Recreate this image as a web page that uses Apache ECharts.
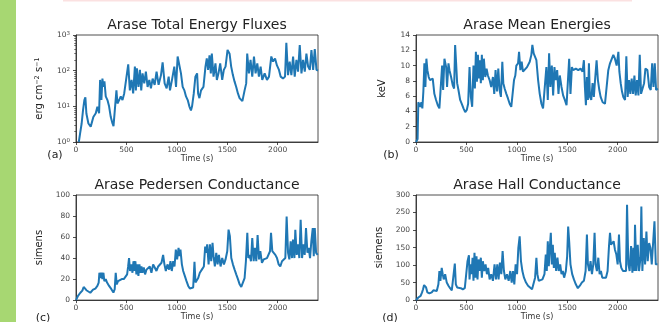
<!DOCTYPE html>
<html>
<head>
<meta charset="utf-8">
<script src="https://cdn.jsdelivr.net/npm/echarts@6/dist/echarts.min.js"></script>
<style>
  html, body { margin: 0; padding: 0; background: #fff; }
  #chart { width: 659px; height: 322px; }
</style>
</head>
<body>
<div id="chart"></div>
<script>
// (a) total energy flux, erg cm^-2 s^-1
var fluxT = [28,40,56,70,83,93,103,123,146,172,196,212,229,239,252,262,272,282,295,312,328,345,362,372,388,401,411,428,444,461,478,494,518,534,551,567,584,594,604,620,634,647,660,677,693,710,727,743,760,780,799,819,843,859,879,899,919,932,952,975,992,1008,1025,1041,1058,1075,1091,1108,1124,1140,1151,1168,1184,1201,1211,1224,1240,1264,1284,1297,1310,1324,1337,1347,1364,1383,1397,1413,1430,1450,1466,1483,1503,1523,1539,1556,1572,1589,1606,1622,1639,1650,1672,1688,1698,1715,1731,1748,1765,1781,1798,1814,1831,1847,1871,1894,1914,1937,1954,1974,1993,2013,2030,2053,2073,2086,2103,2119,2136,2153,2169,2186,2202,2219,2236,2252,2269,2285,2302,2319,2335,2352,2368,2385,2400];
var fluxV = [1.0,1.7,3.3,8,15,18,6.3,3.3,2.7,5,6.4,9.8,6.4,55,15,60,35,50,19,15,10,5,3.3,2.8,10,28,12,15,19,15,23,21,150,28,55,23,130,28,117,35,105,28,84,44,94,35,55,32,60,40,94,40,75,170,44,32,68,28,55,130,35,250,270,84,35,28,19,15,10,7.7,10,23,68,84,23,17,28,35,130,220,105,270,84,300,68,160,55,84,160,55,105,130,380,300,130,75,50,35,23,17,15,14,28,44,300,84,200,68,250,84,160,68,130,55,84,55,68,250,180,220,140,105,68,60,68,600,75,180,75,250,68,200,94,520,84,200,94,300,130,105,380,105,400,105,100];

// (b) mean energy, keV
var energyT = [0,10,16,23,33,43,53,63,73,83,93,103,113,126,139,153,166,182,199,216,232,249,259,269,282,299,308,322,332,348,365,378,388,398,408,421,438,454,471,488,504,517,531,544,557,570,584,594,604,614,624,634,643,653,663,673,687,700,713,730,746,763,776,789,803,816,829,842,856,866,879,896,912,929,945,962,972,985,995,1012,1022,1035,1048,1061,1078,1101,1128,1144,1154,1167,1181,1194,1211,1227,1244,1260,1277,1293,1307,1320,1333,1347,1360,1373,1386,1400,1413,1426,1443,1459,1476,1493,1506,1519,1532,1546,1559,1585,1609,1632,1652,1665,1675,1685,1695,1705,1715,1725,1738,1751,1764,1778,1791,1804,1818,1831,1851,1874,1891,1907,1924,1940,1957,1973,1990,2007,2017,2030,2043,2056,2073,2086,2099,2113,2126,2139,2153,2166,2179,2192,2206,2219,2232,2245,2262,2275,2295,2312,2328,2342,2355,2368,2381,2398];
var energyV = [0,0.1,0.4,5.2,5,4.6,5.2,4.4,6.6,10.3,7.2,10.9,9.4,8.5,8.1,7.9,8.3,6.3,5.5,4.8,4.4,4.6,10,6.8,10.9,9.8,7.2,10.3,9.4,8.5,7.4,7.0,12.7,10.3,7.7,6.8,5.5,5.0,4.4,3.9,4.2,5.0,9.8,5.9,4.6,10,7.0,11.8,7.9,11.4,8.3,10.7,7.7,11.4,8.1,10.9,8.5,9.6,8.7,8.1,7.2,8.5,6.3,9.4,6.6,9.6,6.8,5.9,10.5,7.7,7.0,6.3,5.7,5.0,4.6,4.6,8.1,8.7,10,10.3,11.8,9.4,10.5,9.2,9.4,9.8,10.5,11.4,12.7,11.6,11.4,10.7,8.1,6.3,5.0,4.4,4.2,9.8,5.5,11.6,7.2,10,6.1,9.8,8.1,9.4,6.3,8.7,7.2,6.1,5.5,4.8,5.0,10.9,6.3,9.8,9.4,9.6,9.4,9.6,9.2,10.7,7.2,4.8,8.5,5.5,10.3,5.9,5.5,7.7,5.9,8.5,10.7,8.1,6.8,5.9,5.2,5.0,5.0,9.4,10.3,10.5,11.4,10.9,10,11.8,9.2,7.7,6.6,5.9,5.5,11.2,5.9,8.1,6.3,8.3,6.3,8.7,6.1,8.1,6.1,11.4,6.3,6.1,7.7,9.6,9.4,7.2,6.8,10.3,7.2,10.3,6.8,7.0];

// (c) Pedersen conductance, siemens
var pedT = [0,20,43,63,76,89,103,119,142,169,192,212,225,232,242,252,262,272,281,295,308,328,351,371,384,394,404,417,434,454,474,493,507,517,526,536,550,560,570,579,589,599,609,619,629,639,649,659,672,685,699,715,732,748,765,781,798,815,831,848,864,877,891,907,924,937,950,964,977,990,1003,1017,1026,1036,1050,1063,1079,1096,1113,1129,1146,1162,1175,1185,1195,1212,1228,1248,1268,1281,1291,1301,1315,1328,1341,1354,1364,1377,1391,1404,1417,1434,1450,1467,1483,1500,1513,1526,1540,1556,1573,1589,1606,1623,1639,1656,1672,1685,1699,1709,1722,1735,1748,1762,1775,1788,1801,1815,1828,1844,1861,1877,1894,1911,1924,1934,1947,1960,1977,1993,2010,2026,2043,2060,2076,2089,2103,2116,2129,2142,2152,2166,2175,2189,2202,2215,2228,2242,2255,2268,2281,2295,2308,2321,2334,2348,2358,2368,2381,2397];
var pedV = [0,4,7,9,12.5,12,9.4,8,7,10,11,13.5,16.7,26,21,26,20,26,18,20,16.7,13.5,10.4,7.2,10.4,26,15,18,18,20,20,21,24.5,32,40,27.7,34,26,37,27.7,37,24.5,34,23,34,26,32,26,31,24.5,29,27.7,32,26,34,31,27.7,32,31,35.5,43,34,27.7,34,29,37,27.7,37,32,48,38.7,49.7,41.8,48,34,27.7,23,18,13.5,11,9.4,12,36.5,16.7,18,21,26,29,32,51,45,53,34,53,37,54.4,41.8,32,45,34,43,32,40,34,38.7,46.5,67,60.7,40,34,29,24.5,20,15,12.5,13.5,21,37,64,40,43,37,59,37,49.7,37,62,38.7,46.5,35.5,38.7,37,40,38.7,46.5,64,46.5,48,43,40,34,32,37,38.7,40,79.6,45,38.7,56,40,57.5,40,67,43,53,40,76.4,40,53,43,68.5,45,49.7,40,56,68.5,41.8,68.5,45,43];

// (d) Hall conductance, siemens
var hallT = [0,23,46,60,70,80,90,100,113,133,156,172,189,206,222,232,242,255,265,275,289,305,322,338,355,371,385,395,408,425,444,464,484,498,511,525,531,541,551,561,570,580,590,600,610,620,630,643,653,663,677,690,703,716,730,746,763,779,793,806,819,832,846,859,872,886,902,919,935,949,962,975,988,1002,1015,1028,1041,1055,1071,1091,1111,1131,1151,1167,1181,1194,1204,1217,1234,1254,1274,1287,1297,1307,1317,1327,1337,1347,1357,1367,1376,1390,1403,1416,1430,1443,1456,1469,1486,1499,1509,1519,1532,1549,1566,1585,1605,1625,1645,1665,1682,1695,1705,1718,1731,1745,1758,1771,1781,1794,1808,1821,1834,1847,1864,1884,1900,1914,1924,1934,1947,1960,1973,1987,2000,2013,2023,2036,2053,2070,2083,2093,2106,2119,2133,2146,2156,2166,2172,2186,2199,2212,2226,2235,2245,2259,2272,2285,2298,2312,2325,2338,2352,2365,2378,2395];
var hallV = [0,7.5,12,22,31,43,47,36,22,19,22,28,31,26,45,83,55,92,74,59,74,50,41,34,28,31,104,45,36,38,34,31,34,38,111,128,59,102,74,121,55,135,64,125,59,116,83,121,64,111,83,102,74,92,59,74,55,102,59,102,59,107,74,140,83,59,74,55,83,50,83,45,102,74,149,182,111,83,64,50,41,36,31,34,64,121,74,55,50,59,74,130,83,168,97,149,192,102,158,92,135,83,121,83,102,74,83,64,83,125,210,168,102,74,59,45,34,41,50,55,83,187,102,83,111,74,102,192,102,83,121,74,83,64,69,64,83,154,192,158,154,168,144,130,102,187,111,92,83,78,83,272,102,83,154,78,149,83,215,83,158,83,121,267,83,177,102,196,111,163,149,102,97,225,102,102];

var timeTicks = [0, 500, 1000, 1500, 2000];
var fluxTicks = [1, 10, 100, 1000];
var fluxMinor = [2,3,4,5,6,7,8,9,20,30,40,50,60,70,80,90,200,300,400,500,600,700,800,900];

var blue = '#1f77b4';
var font = 'DejaVu Sans';

function pairs(ts, vs) {
  return ts.map(function (t, i) { return [t, vs[i]]; });
}

var grids = [
  {left: 76, top: 35, width: 242, height: 107},
  {left: 416, top: 35, width: 242, height: 107},
  {left: 76, top: 195, width: 242, height: 106},
  {left: 416, top: 195, width: 242, height: 106}
];
grids.forEach(function (g) {
  g.show = true;
  g.borderColor = '#222';
  g.borderWidth = 0.8;
  g.backgroundColor = 'transparent';
});

function plain(v) { return String(v); }

function xAxisFor(i) {
  return {
    type: 'value', gridIndex: i, min: 0, max: 2400,
    name: 'Time (s)', nameLocation: 'middle', nameGap: 10,
    nameTextStyle: {fontFamily: font, fontSize: 8, color: '#333'},
    axisLine: {lineStyle: {color: '#222', width: 0.8}},
    axisTick: {length: 3, lineStyle: {color: '#222', width: 0.8}, customValues: timeTicks},
    axisLabel: {fontFamily: font, fontSize: 7.5, color: '#444', margin: 4, customValues: timeTicks, formatter: plain},
    splitLine: {show: false}
  };
}

function yAxisFor(i, name, min, max, interval, gap) {
  return {
    type: 'value', gridIndex: i, min: min, max: max, interval: interval,
    name: name, nameLocation: 'middle', nameGap: gap,
    nameTextStyle: {fontFamily: font, fontSize: 10, color: '#222'},
    axisLine: {show: true, lineStyle: {color: '#222', width: 0.8}},
    axisTick: {show: true, length: 3, lineStyle: {color: '#222', width: 0.8}},
    axisLabel: {fontFamily: font, fontSize: 7.5, color: '#444', margin: 6, formatter: plain},
    splitLine: {show: false}
  };
}

var option = {
  animation: false,
  backgroundColor: '#fff',
  graphic: [
    {type: 'rect', shape: {x: 0, y: 0, width: 16, height: 322}, style: {fill: '#a7d772'}},
    {type: 'rect', shape: {x: 63, y: 0, width: 569, height: 1.5}, style: {fill: '#fbe1e1'}},
    {type: 'text', x: 55, y: 155, style: {text: '(a)', fontFamily: font, fontSize: 11, fill: '#222', align: 'center', verticalAlign: 'middle'}},
    {type: 'text', x: 391, y: 155, style: {text: '(b)', fontFamily: font, fontSize: 11, fill: '#222', align: 'center', verticalAlign: 'middle'}},
    {type: 'text', x: 43, y: 318, style: {text: '(c)', fontFamily: font, fontSize: 11, fill: '#222', align: 'center', verticalAlign: 'middle'}},
    {type: 'text', x: 390, y: 318, style: {text: '(d)', fontFamily: font, fontSize: 11, fill: '#222', align: 'center', verticalAlign: 'middle'}}
  ],
  title: [
    {text: 'Arase Total Energy Fluxes', left: 197, top: 18},
    {text: 'Arase Mean Energies', left: 537, top: 18},
    {text: 'Arase Pedersen Conductance', left: 197, top: 178},
    {text: 'Arase Hall Conductance', left: 537, top: 178}
  ].map(function (t) {
    t.textAlign = 'center';
    t.padding = 0;
    t.textStyle = {fontFamily: font, fontSize: 14, fontWeight: 'normal', color: '#222'};
    return t;
  }),
  grid: grids,
  xAxis: [xAxisFor(0), xAxisFor(1), xAxisFor(2), xAxisFor(3)],
  yAxis: [
    {
      type: 'log', gridIndex: 0, min: 1, max: 1000, logBase: 10,
      name: 'erg cm{sup|\u22122} s{sup|\u22121}', nameLocation: 'middle', nameGap: 32,
      nameTextStyle: {fontFamily: font, fontSize: 10, color: '#222',
        rich: {sup: {fontFamily: font, fontSize: 6.5, verticalAlign: 'top', color: '#222'}}},
      axisLine: {show: true, lineStyle: {color: '#222', width: 0.8}},
      axisTick: {show: true, length: 3, lineStyle: {color: '#222', width: 0.8}, customValues: fluxTicks},
      axisLabel: {
        fontFamily: font, fontSize: 7.5, color: '#444', margin: 6, customValues: fluxTicks,
        formatter: function (v) { return '10{sup|' + Math.round(Math.log10(v)) + '}'; },
        rich: {sup: {fontFamily: font, fontSize: 5.5, color: '#444', verticalAlign: 'top'}}
      },
      splitLine: {show: false}
    },
    yAxisFor(1, 'keV', 0, 14, 2, 29),
    yAxisFor(2, 'simens', 0, 100, 20, 32),
    yAxisFor(3, 'siemens', 0, 300, 50, 32),
    {
      type: 'log', gridIndex: 0, min: 1, max: 1000, logBase: 10, position: 'left',
      axisLine: {show: false},
      axisTick: {show: true, length: 1.8, lineStyle: {color: '#222', width: 0.6}, customValues: fluxMinor},
      axisLabel: {show: false},
      splitLine: {show: false}
    }
  ],
  series: [
    {data: pairs(fluxT, fluxV), xAxisIndex: 0, yAxisIndex: 0},
    {data: pairs(energyT, energyV), xAxisIndex: 1, yAxisIndex: 1},
    {data: pairs(pedT, pedV), xAxisIndex: 2, yAxisIndex: 2},
    {data: pairs(hallT, hallV), xAxisIndex: 3, yAxisIndex: 3}
  ].map(function (s) {
    s.type = 'line';
    s.showSymbol = false;
    s.silent = true;
    s.lineStyle = {color: blue, width: 2};
    s.itemStyle = {color: blue};
    return s;
  })
};

var myChart = echarts.init(document.getElementById('chart'));
myChart.setOption(option);
</script>
</body>
</html>
